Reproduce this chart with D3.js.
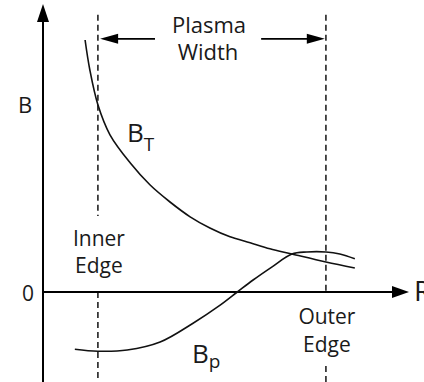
<!DOCTYPE html>
<html>
<head>
<meta charset="utf-8">
<style>
  body { margin: 0; background: #fff; }
  svg { display: block; }
  text { font-family: "Open Sans", "Noto Sans", sans-serif; fill: #1a1a1a; }
  .curve { fill: none; stroke: #111; stroke-width: 1.6; }
  .edge { stroke: #222; stroke-width: 1.6; stroke-dasharray: 6,4; }
  .axis { stroke: #000; stroke-width: 2; }
</style>
<script src="https://d3js.org/d3.v7.min.js"></script>
</head>
<body>
<div id="chart"></div>
<script>
// toroidal field B_T (R, B)
var rT = [1.15, 1.28, 1.50, 1.83, 2.38, 2.92, 3.47, 4.02, 4.56, 5.11, 5.66, 6.20, 6.80, 7.73, 8.52];
var bT = [6.30, 5.55, 4.68, 3.93, 3.23, 2.68, 2.25, 1.88, 1.60, 1.38, 1.23, 1.08, 0.95, 0.75, 0.60];
// poloidal field B_p
var rP = [0.87, 1.50, 2.30, 3.20, 4.10, 4.84, 5.31, 5.74, 6.26, 6.80, 7.21, 7.73, 8.11, 8.52];
var bP = [-1.43, -1.48, -1.45, -1.25, -0.78, -0.33, 0.00, 0.30, 0.63, 0.95, 1.00, 1.00, 0.95, 0.83];
// plasma edges
var edges = [1.50, 7.73];
var edgeNames = [["Inner", "Edge"], ["Outer", "Edge"]];

var width = 424, height = 382;

var x = d3.scaleLinear().domain([0, 10]).range([43, 409]);
var y = d3.scaleLinear().domain([-2.25, 7.2]).range([382, 4]);

var svg = d3.select("#chart").append("svg")
  .attr("width", width).attr("height", height);

// arrowheads
function head(tx, ty, dir, len, hw) {
  // dir: "up", "right", "left"
  var p;
  if (dir == "up") p = [[tx, ty], [tx - hw, ty + len], [tx + hw, ty + len]];
  else if (dir == "right") p = [[tx, ty], [tx - len, ty - hw], [tx - len, ty + hw]];
  else p = [[tx, ty], [tx + len, ty - hw], [tx + len, ty + hw]];
  svg.append("path").attr("d", "M" + p.join("L") + "Z").attr("fill", "#000");
}

// dashed edge lines, with a gap for the labels
var gaps = [[1.9, 0], [0, -1.85]];
edges.forEach(function(e, i) {
  svg.append("line").attr("class", "edge")
    .attr("x1", x(e)).attr("x2", x(e))
    .attr("y1", y(6.93)).attr("y2", y(gaps[i][0]));
  svg.append("line").attr("class", "edge")
    .attr("x1", x(e)).attr("x2", x(e))
    .attr("y1", y(gaps[i][1])).attr("y2", y(-2.25));
});

// axes
svg.append("line").attr("class", "axis")
  .attr("x1", x(0)).attr("x2", x(0)).attr("y1", y(-2.25)).attr("y2", y(6.9));
head(x(0), y(7.2), "up", 18, 6);
svg.append("line").attr("class", "axis")
  .attr("x1", x(0)).attr("x2", x(9.6)).attr("y1", y(0)).attr("y2", y(0));
head(x(10), y(0), "right", 17, 6);

// curves
var line = d3.line().x(function(d) { return x(d[0]); }).y(function(d) { return y(d[1]); })
  .curve(d3.curveCatmullRom.alpha(0.5));
svg.append("path").attr("class", "curve").attr("d", line(d3.zip(rT, bT)));
svg.append("path").attr("class", "curve").attr("d", line(d3.zip(rP, bP)));

// plasma width arrows
var wy = y(6.33);
svg.append("line").attr("class", "axis").style("stroke-width", 1.8)
  .attr("x1", x(3.06)).attr("x2", x(1.9)).attr("y1", wy).attr("y2", wy);
head(x(1.56), wy, "left", 18, 5);
svg.append("line").attr("class", "axis").style("stroke-width", 1.8)
  .attr("x1", x(5.96)).attr("x2", x(7.3)).attr("y1", wy).attr("y2", wy);
head(x(7.70), wy, "right", 18, 5);

svg.append("text").attr("x", 209).attr("y", 33).attr("text-anchor", "middle")
  .style("font-size", "22px").text("Plasma");
svg.append("text").attr("x", 208).attr("y", 60).attr("text-anchor", "middle")
  .style("font-size", "22px").text("Width");

// edge labels
var labelY = [[246, 273], [324, 352]];
edges.forEach(function(e, i) {
  edgeNames[i].forEach(function(t, j) {
    svg.append("text").attr("x", x(e) + 1).attr("y", labelY[i][j])
      .attr("text-anchor", "middle").style("font-size", "21px").text(t);
  });
});

// axis labels
svg.append("text").attr("x", 25).attr("y", 113).attr("text-anchor", "middle")
  .style("font-size", "22px").text("B");
svg.append("text").attr("x", 28).attr("y", 301).attr("text-anchor", "middle")
  .style("font-size", "21px").text("0");
svg.append("text").attr("x", 414).attr("y", 301)
  .style("font-size", "28px").text("R");

// curve labels
var lt = svg.append("text").attr("x", 127).attr("y", 142).style("font-size", "26px");
lt.append("tspan").text("B");
lt.append("tspan").attr("dy", 9).style("font-size", "19px").text("T");

var lp = svg.append("text").attr("x", 192).attr("y", 363).style("font-size", "26px");
lp.append("tspan").text("B");
lp.append("tspan").attr("dy", 5).style("font-size", "19px").text("p");
</script>
</body>
</html>
